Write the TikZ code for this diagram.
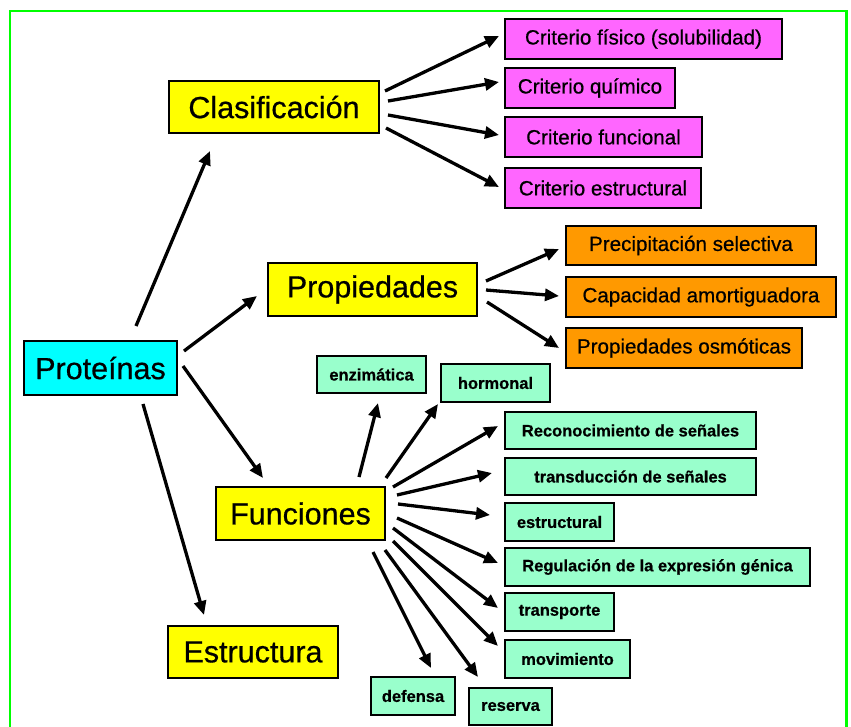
\documentclass[tikz,border=0pt]{standalone}
\usepackage{fontspec}
\setmainfont{Liberation Sans}[FakeBold=0.6]
\newfontfamily\regfont{Liberation Sans}[AutoFakeBold=0.6]
\usetikzlibrary{arrows.meta}
\definecolor{yel}{HTML}{FFFF00}
\definecolor{cya}{HTML}{00FFFF}
\definecolor{mag}{HTML}{FF66FF}
\definecolor{ora}{HTML}{FF9900}
\definecolor{grn}{HTML}{99FFCC}
\definecolor{frame}{HTML}{00FF00}
\tikzset{
  box/.style={draw=black, line width=2.6pt, inner sep=0pt, align=center},
  bigbox/.style={box, font=\regfont\fontsize{30.5}{32}\selectfont\bfseries},
  midbox/.style={box, font=\regfont\fontsize{20.6}{22}\selectfont\bfseries},
  smallbox/.style={box, fill=grn, font=\fontsize{16.5}{18}\selectfont\bfseries},
  arr/.style={line width=3.3pt, -{Triangle[length=14pt,width=12pt]}},
}
\begin{document}
\begin{tikzpicture}[x=1pt,y=-1pt]
\useasboundingbox (0,0) rectangle (851,726);
\draw[frame, line width=2.6pt] (10,740) -- (10,11) -- (846.5,11) -- (846.5,740);

% main nodes
\node[bigbox, fill=cya, minimum width=153pt, minimum height=54pt] (prot) at (100.5,368) {Proteínas};
\node[bigbox, fill=yel, minimum width=210pt, minimum height=52pt] (clas) at (274,107) {Clasificación};
\node[bigbox, fill=yel, minimum width=209pt, minimum height=53pt] (prop) at (372.5,289.5) {Propiedades};
\node[bigbox, fill=yel, minimum width=169pt, minimum height=53pt] (func) at (300.5,513.5) {Funciones};
\node[bigbox, fill=yel, minimum width=170pt, minimum height=52pt] (estr) at (253,652) {Estructura};

% clasificacion
\node[midbox, fill=mag, minimum width=277pt, minimum height=40pt] (c1) at (643.5,39) {Criterio físico (solubilidad)};
\node[midbox, fill=mag, minimum width=170pt, minimum height=40pt] (c2) at (590,88) {Criterio químico};
\node[midbox, fill=mag, minimum width=197pt, minimum height=40pt] (c3) at (603.5,137) {Criterio funcional};
\node[midbox, fill=mag, minimum width=196pt, minimum height=40pt] (c4) at (603,188) {Criterio estructural};

% propiedades
\node[midbox, fill=ora, minimum width=250pt, minimum height=39pt] (p1) at (691,245.5) {Precipitación selectiva};
\node[midbox, fill=ora, minimum width=270pt, minimum height=40pt] (p2) at (701,297) {Capacidad amortiguadora};
\node[midbox, fill=ora, minimum width=236pt, minimum height=40pt] (p3) at (684,348) {Propiedades osmóticas};

% funciones
\node[smallbox, minimum width=109pt, minimum height=37pt] (enz) at (371.5,374.5) {enzimática};
\node[smallbox, minimum width=109pt, minimum height=38pt] (hor) at (495.5,383) {hormonal};
\node[smallbox, minimum width=251pt, minimum height=37pt] (rec) at (630.5,430.5) {Reconocimiento de señales};
\node[smallbox, minimum width=251pt, minimum height=37pt] (tra) at (630.5,476.5) {transducción de señales};
\node[smallbox, minimum width=109pt, minimum height=38pt] (est) at (559.5,522) {estructural};
\node[smallbox, minimum width=305pt, minimum height=38pt] (reg) at (657.5,567) {Regulación de la expresión génica};
\node[smallbox, minimum width=109pt, minimum height=38pt] (trp) at (559.5,612) {transporte};
\node[smallbox, minimum width=125pt, minimum height=38pt] (mov) at (567.5,659) {movimiento};
\node[smallbox, minimum width=84pt, minimum height=38pt] (def) at (413,696) {defensa};
\node[smallbox, minimum width=83pt, minimum height=37pt] (res) at (510.5,706.5) {reserva};

% arrows from proteinas
\draw[arr] ([shift={(35.5,-42)}]prot.center) -- ([shift={(-64,44)}]clas.center);
\draw[arr] ([shift={(83.5,-17)}]prot.center) -- ([shift={(-115.5,6.5)}]prop.center);
\draw[arr] ([shift={(82.5,-2)}]prot.center) -- ([shift={(-37.5,-35.5)}]func.center);
\draw[arr] ([shift={(42.5,36)}]prot.center) -- ([shift={(-49,-37)}]estr.center);

% clasificacion arrows
\draw[arr] ([shift={(111,-16)}]clas.center) -- ([shift={(-144.5,-3)}]c1.center);
\draw[arr] ([shift={(114,-6)}]clas.center) -- ([shift={(-91,-6)}]c2.center);
\draw[arr] ([shift={(114,8)}]clas.center) -- ([shift={(-104.5,-2)}]c3.center);
\draw[arr] ([shift={(112,21)}]clas.center) -- ([shift={(-104,-1)}]c4.center);

% propiedades arrows
\draw[arr] ([shift={(113.5,-8.5)}]prop.center) -- ([shift={(-132,3.5)}]p1.center);
\draw[arr] ([shift={(113.5,0.5)}]prop.center) -- ([shift={(-142,-1)}]p2.center);
\draw[arr] ([shift={(114.5,12.5)}]prop.center) -- ([shift={(-125,0)}]p3.center);

% funciones arrows
\draw[arr] ([shift={(58.5,-36.5)}]func.center) -- ([shift={(6.5,28.5)}]enz.center);
\draw[arr] ([shift={(85.5,-35.5)}]func.center) -- ([shift={(-57.5,21)}]hor.center);
\draw[arr] ([shift={(92.5,-26.5)}]func.center) -- ([shift={(-132.5,-4.5)}]rec.center);
\draw[arr] ([shift={(96.5,-18.5)}]func.center) -- ([shift={(-138.5,-3.5)}]tra.center);
\draw[arr] ([shift={(97.5,-9.5)}]func.center) -- ([shift={(-69.5,-7)}]est.center);
\draw[arr] ([shift={(96.5,4.5)}]func.center) -- ([shift={(-159.5,-4)}]reg.center);
\draw[arr] ([shift={(92.5,14.5)}]func.center) -- ([shift={(-61.5,-4)}]trp.center);
\draw[arr] ([shift={(92.5,27.5)}]func.center) -- ([shift={(-69.5,-13)}]mov.center);
\draw[arr] ([shift={(84.5,36.5)}]func.center) -- ([shift={(-32.5,-29.5)}]res.center);
\draw[arr] ([shift={(72.5,38.5)}]func.center) -- ([shift={(18,-28)}]def.center);
\end{tikzpicture}
\end{document}
